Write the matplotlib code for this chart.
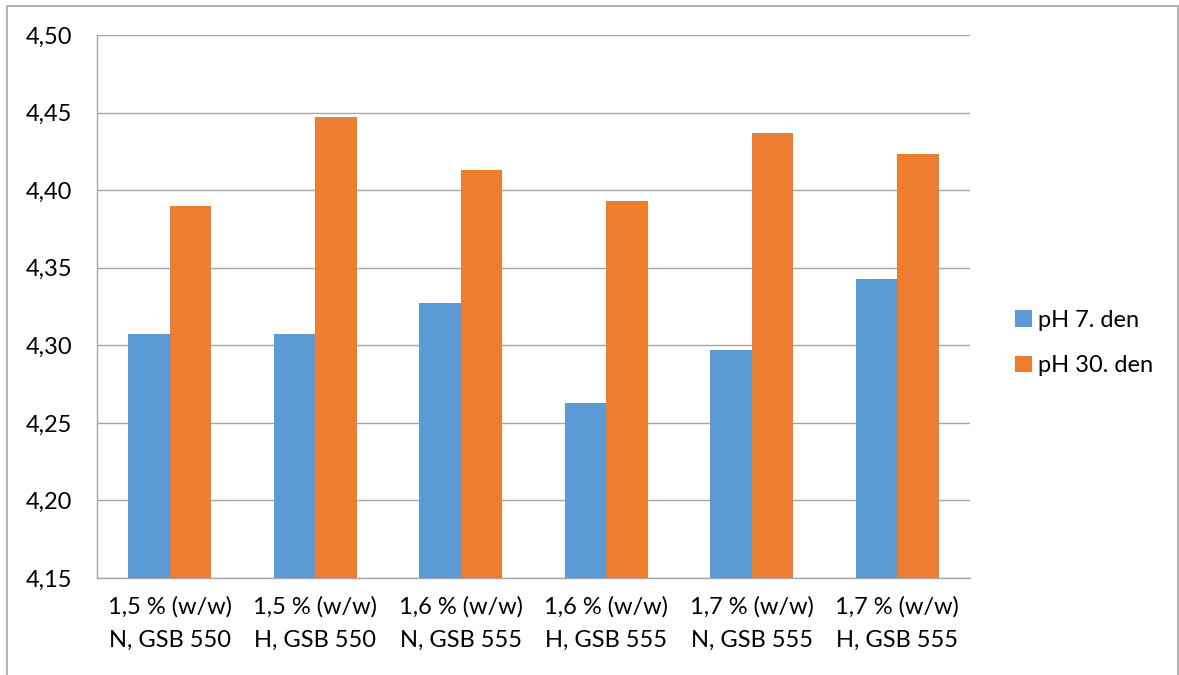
import matplotlib
matplotlib.use("Agg")
import matplotlib.pyplot as plt
import numpy as np
from matplotlib.patches import Rectangle

categories = [
    "1,5 % (w/w)\nN, GSB 550",
    "1,5 % (w/w)\nH, GSB 550",
    "1,6 % (w/w)\nN, GSB 555",
    "1,6 % (w/w)\nH, GSB 555",
    "1,7 % (w/w)\nN, GSB 555",
    "1,7 % (w/w)\nH, GSB 555",
]
series_names = ["pH 7. den", "pH 30. den"]
ph_day7 = [4.307, 4.307, 4.327, 4.263, 4.297, 4.343]
ph_day30 = [4.390, 4.447, 4.413, 4.393, 4.437, 4.423]
y_ticks = [4.15, 4.20, 4.25, 4.30, 4.35, 4.40, 4.45, 4.50]

plt.rcParams["font.family"] = ["Lato", "DejaVu Sans"]

fig = plt.figure(figsize=(11.79, 6.75), dpi=100)
ax = fig.add_axes([97 / 1179, 1 - 578 / 675, 873 / 1179, 543 / 675])

x = np.arange(len(categories))
bw = 1 / 3.5  # gap width 150 %
ax.bar(x - bw / 2, ph_day7, width=bw, color="#5B9BD5", label=series_names[0], zorder=3)
ax.bar(x + bw / 2, ph_day30, width=bw, color="#ED7D31", label=series_names[1], zorder=3)

ax.set_xlim(-0.5, len(categories) - 0.5)
ax.set_ylim(4.15, 4.50)
ax.set_yticks(y_ticks)
ax.set_yticklabels([f"{v:.2f}".replace(".", ",") for v in y_ticks])
ax.set_xticks(x)
ax.set_xticklabels(categories)
ax.tick_params(axis="both", length=0, labelsize=17, colors="#000000")
ax.tick_params(axis="y", pad=18)
ax.tick_params(axis="x", pad=13)
for lbl in ax.get_xticklabels():
    lbl.set_linespacing(1.7)

ax.yaxis.grid(True, color="#a6a6a6", linewidth=1.0, zorder=0)
for side in ["top", "right"]:
    ax.spines[side].set_visible(False)
for side in ["left", "bottom"]:
    ax.spines[side].set_color("#a6a6a6")
    ax.spines[side].set_linewidth(1.0)

leg = fig.legend(
    loc="center left",
    bbox_to_anchor=(994 / 1179, 1 - 343 / 675),
    frameon=False,
    fontsize=17,
    handlelength=0.7,
    handleheight=0.7,
    handletextpad=0.25,
    labelspacing=1.05,
)

# outer chart frame
fig.patches.append(
    Rectangle((7 / 1179, -0.1), 1171 / 1179, 1.1 - 6 / 675,
              transform=fig.transFigure, fill=False,
              edgecolor="#a6a6a6", linewidth=1.2)
)

fig.savefig("out.png", dpi=100, facecolor="white")
